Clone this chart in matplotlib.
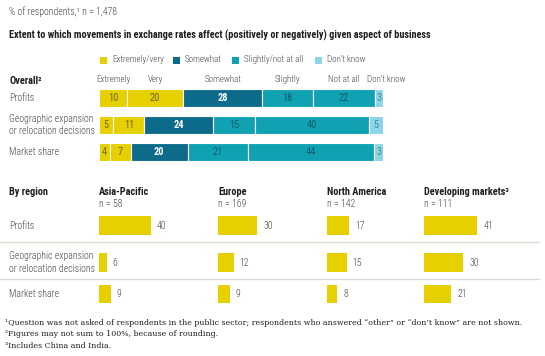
import matplotlib
matplotlib.use('Agg')
import matplotlib.pyplot as plt
from matplotlib.patches import Rectangle
from matplotlib.transforms import blended_transform_factory
from matplotlib import font_manager

# ---- data ----
aspects = ['Profits', 'Geographic expansion\nor relocation decisions', 'Market share']
answer_cols = ['Extremely', 'Very', 'Somewhat', 'Slightly', 'Not at all', "Don't know"]
extremely = [10, 5, 4]
very = [20, 11, 7]
somewhat = [28, 24, 20]
slightly = [18, 15, 21]
not_at_all = [22, 40, 44]
dont_know = [3, 5, 3]

legend_labels = ['Extremely/very', 'Somewhat', 'Slightly/not at all', "Don't know"]

regions = ['Asia-Pacific', 'Europe', 'North America', 'Developing markets\u00b3']
region_n = [58, 169, 142, 111]
asia_pacific = [40, 6, 9]
europe = [30, 12, 9]
north_america = [17, 15, 8]
developing = [41, 30, 21]

# ---- style ----
names = {f.name for f in font_manager.fontManager.ttflist}
SANS, FS = 'Liberation Sans', 0.86
for cand in ['Roboto Condensed', 'Liberation Sans Narrow', 'Arial Narrow']:
    if cand in names:
        SANS, FS = cand, 1.0
        break
plt.rcParams['font.family'] = [SANS, 'DejaVu Sans']
LW = 'light'

YEL = '#e6d000'
DARK = '#0d6b8a'
TEAL = '#10a2b3'
LIGHT = '#8ed4e8'
GREY = '#444444'
BLACK = '#1e1e1e'
seg_colors = [YEL, YEL, DARK, TEAL, TEAL, LIGHT]
seg_text = ['#6b6630', '#6b6630', 'white', '#0d5f6e', '#0d5f6e', '#3d8c9c']

W, H = 545, 356
fig = plt.figure(figsize=(W / 100, H / 100), dpi=100)
bg = fig.add_axes([0, 0, 1, 1])
bg.set_xlim(0, W)
bg.set_ylim(H, 0)
bg.axis('off')


def px_axes(x0, y0, w, h):
    ax = fig.add_axes([x0 / W, 1 - (y0 + h) / H, w / W, h / H])
    ax.axis('off')
    return ax


# header texts
bg.text(9, 12, '% of respondents,\u00b9 n = 1,478', fontsize=7 * FS, color=GREY, va='center', fontweight=LW)
bg.text(9, 35, 'Extent to which movements in exchange rates affect (positively or negatively) given aspect of business',
        fontsize=7.4 * FS, fontweight='bold', color=BLACK, va='center')

# legend
leg_x = [100, 173, 232, 315]
for lx, lab, c in zip(leg_x, legend_labels, [YEL, DARK, TEAL, LIGHT]):
    bg.add_patch(Rectangle((lx, 56.5), 7, 7, color=c, lw=0))
    bg.text(lx + 12, 60, lab, fontsize=6.5 * FS, color=GREY, va='center', fontweight=LW)

# ---- overall stacked bars ----
ax = px_axes(99, 84.5, 284, 81)
ax.set_xlim(0, 1)
ax.set_ylim(2.5, -0.5)
series = [extremely, very, somewhat, slightly, not_at_all, dont_know]
hdr_tr = blended_transform_factory(ax.transData, bg.transData)
lbl_tr = blended_transform_factory(bg.transData, ax.transData)
for i in range(len(aspects)):
    vals = [s[i] for s in series]
    total = sum(vals)
    left = 0
    for k, v in enumerate(vals):
        w = v / total
        ax.barh(i, w, left=left, height=0.67, color=seg_colors[k], edgecolor='white', linewidth=0.8)
        ax.text(left + w / 2, i, str(v), ha='center', va='center', fontsize=7.5 * FS,
                color=seg_text[k], fontweight='bold' if k == 2 else 'normal')
        if i == 0:
            off = 7 if k == len(vals) - 1 else 0
            ax.annotate(answer_cols[k], (left + w / 2, 79), xycoords=hdr_tr, xytext=(off, 0),
                        textcoords='offset pixels', ha='center', va='center', fontsize=6.5 * FS,
                        color=GREY, fontweight=LW)
        left += w
    bg.text(9, i, aspects[i], transform=lbl_tr, fontsize=7 * FS, color=GREY, va='center',
            linespacing=1.3, fontweight=LW)
bg.text(9, 81, 'Overall\u00b2', fontsize=7.4 * FS, fontweight='bold', color=BLACK, va='center')

# ---- by region ----
bg.text(9, 192, 'By region', fontsize=7.4 * FS, fontweight='bold', color=BLACK, va='center')
region_vals = [asia_pacific, europe, north_america, developing]
region_x = [99, 218, 327, 424]
row_pos = [0, 1, 1.84]
for j, (name, n, vals) in enumerate(zip(regions, region_n, region_vals)):
    x0 = region_x[j]
    bg.text(x0, 192, name, fontsize=7.4 * FS, fontweight='bold', color=BLACK, va='center')
    bg.text(x0, 204, f'n = {n}', fontsize=7 * FS, color=GREY, va='center', fontweight=LW)
    rax = px_axes(x0, 207, 100, 104)
    rax.set_xlim(0, 100 / 1.3)
    rax.set_ylim(2.31, -0.5)
    rax.barh(row_pos, vals, height=0.49, color=YEL, lw=0)
    for p, v in zip(row_pos, vals):
        rax.annotate(str(v), (v, p), xytext=(6, 0), textcoords='offset pixels',
                     ha='left', va='center', fontsize=7 * FS, color=GREY, fontweight=LW)
    if j == 0:
        tr = blended_transform_factory(bg.transData, rax.transData)
        for p, lab in zip(row_pos, aspects):
            bg.text(9, p, lab, transform=tr, fontsize=7 * FS, color=GREY, va='center',
                    linespacing=1.3, fontweight=LW)

for y in [242, 279]:
    bg.plot([0, 539], [y, y], color='#dcdcd2', lw=1)

# footnotes
foot = ['\u00b9Question was not asked of respondents in the public sector; respondents who answered \u201cother\u201d or \u201cdon\u2019t know\u201d are not shown.',
        '\u00b2Figures may not sum to 100%, because of rounding.',
        '\u00b3Includes China and India.']
for k, t in enumerate(foot):
    bg.text(5, 323 + 11.5 * k, t, fontsize=5.65, family='DejaVu Serif', color=BLACK, va='center')

fig.savefig('out.png', dpi=100)
